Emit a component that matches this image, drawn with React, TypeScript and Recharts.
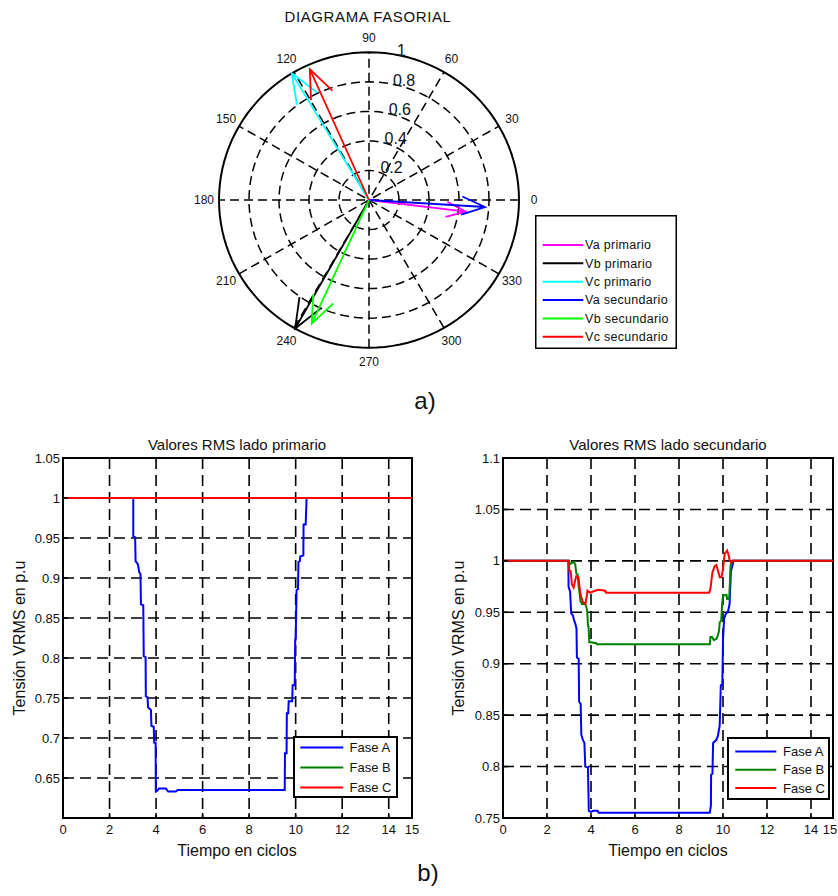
import React from 'react';
import {
  ComposedChart,
  LineChart,
  Line,
  Scatter,
  XAxis,
  YAxis,
  CartesianGrid,
  ReferenceArea,
  Legend,
} from 'recharts';

const FONT = '"Liberation Sans", Arial, Helvetica, sans-serif';

// ---------- Phasor diagram data ----------
const phasorNames = ['Va primario', 'Vb primario', 'Vc primario', 'Va secundario', 'Vb secundario', 'Vc secundario'];
const phasorMagnitudes = [0.65, 1.0, 1.0, 0.775, 0.92, 0.97];
const phasorAngles = [-7, 240.5, 121, -3.5, 245.5, 114];
const phasorColors = ['#ff00ff', '#000000', '#00ffff', '#0000ff', '#00ff00', '#ff0000'];
const ringRadii = [0.2, 0.4, 0.6, 0.8];
const outerRadius = 1;
const spokeAngles = [30, 60, 90, 120, 150, 180];
const angleLabels = [0, 30, 60, 90, 120, 150, 180, 210, 240, 270, 300, 330];
const radialLabels = [0.2, 0.4, 0.6, 0.8, 1];

// ---------- RMS data ----------
type Pt = [number, number];
const timeTicks = [0, 2, 4, 6, 8, 10, 12, 14, 15];
const primTicks = [0.65, 0.7, 0.75, 0.8, 0.85, 0.9, 0.95, 1, 1.05];
const secTicks = [0.75, 0.8, 0.85, 0.9, 0.95, 1, 1.05, 1.1];
const faseNames = ['Fase A', 'Fase B', 'Fase C'];
const faseColors = ['#0000ff', '#008000', '#ff0000'];

const primFaseA: Pt[] = [
  [0, 1], [3.02, 1], [3.02, 0.952], [3.1, 0.951], [3.12, 0.921], [3.22, 0.917], [3.28, 0.907],
  [3.33, 0.905], [3.35, 0.867], [3.45, 0.866], [3.47, 0.802], [3.55, 0.801], [3.56, 0.752],
  [3.63, 0.751], [3.66, 0.738], [3.78, 0.735], [3.8, 0.715], [3.9, 0.714], [3.92, 0.694],
  [3.98, 0.694], [3.99, 0.633], [4.05, 0.634], [4.13, 0.637], [4.42, 0.637], [4.52, 0.633],
  [4.85, 0.633], [4.93, 0.635], [9.53, 0.635], [9.54, 0.681], [9.61, 0.681], [9.62, 0.731],
  [9.68, 0.731], [9.7, 0.746], [9.85, 0.746], [9.87, 0.766], [9.96, 0.766], [9.98, 0.823],
  [10.0, 0.823], [10.04, 0.885], [10.1, 0.886], [10.12, 0.92], [10.18, 0.921], [10.2, 0.927],
  [10.33, 0.928], [10.34, 0.967], [10.43, 0.967], [10.47, 1], [15, 1],
];
const primFaseB: Pt[] = [[0, 1], [15, 1]];
const primFaseC: Pt[] = [[0, 1], [15, 1]];

const secFaseA: Pt[] = [
  [0, 1], [2.97, 1], [2.98, 0.975], [3.05, 0.97], [3.1, 0.949], [3.18, 0.947], [3.22, 0.943],
  [3.3, 0.938], [3.34, 0.934], [3.36, 0.906], [3.44, 0.905], [3.46, 0.863], [3.53, 0.861],
  [3.56, 0.831], [3.63, 0.826], [3.7, 0.823], [3.74, 0.8], [3.86, 0.799], [3.9, 0.757],
  [4.0, 0.756], [4.1, 0.757], [4.3, 0.757], [4.35, 0.755], [9.4, 0.755], [9.45, 0.762],
  [9.46, 0.792], [9.52, 0.793], [9.55, 0.823], [9.7, 0.826], [9.77, 0.83], [9.85, 0.84],
  [9.9, 0.879], [9.97, 0.88], [10.0, 0.923], [10.05, 0.944], [10.12, 0.948], [10.23, 0.951],
  [10.3, 0.958], [10.36, 0.99], [10.45, 0.997], [10.46, 1], [15, 1],
];
const secFaseB: Pt[] = [
  [0, 1], [3.0, 1], [3.06, 0.997], [3.2, 0.999], [3.28, 0.997], [3.33, 0.988], [3.39, 0.987],
  [3.43, 0.977], [3.48, 0.969], [3.52, 0.961], [3.59, 0.958], [3.74, 0.958], [3.79, 0.955],
  [3.83, 0.951], [3.86, 0.937], [3.89, 0.936], [3.92, 0.921], [4.24, 0.92], [4.27, 0.919],
  [9.4, 0.919], [9.43, 0.926], [9.5, 0.926], [9.58, 0.923], [9.7, 0.924], [9.76, 0.927],
  [9.82, 0.932], [9.85, 0.94], [9.92, 0.942], [9.96, 0.958], [10.0, 0.966], [10.16, 0.967],
  [10.19, 0.963], [10.28, 0.963], [10.31, 0.977], [10.34, 0.995], [10.38, 0.998], [10.43, 1], [15, 1],
];
const secFaseC: Pt[] = [
  [0, 1], [2.98, 1], [3.02, 0.99], [3.08, 0.99], [3.13, 0.977], [3.21, 0.974], [3.28, 0.981],
  [3.33, 0.985], [3.43, 0.984], [3.48, 0.974], [3.54, 0.966], [3.63, 0.96], [3.74, 0.958],
  [3.81, 0.966], [3.84, 0.971], [3.96, 0.969], [4.19, 0.971], [4.34, 0.972], [4.64, 0.971],
  [4.69, 0.969], [9.37, 0.969], [9.43, 0.973], [9.52, 0.989], [9.63, 0.995], [9.7, 0.996],
  [9.78, 0.99], [9.85, 0.984], [9.93, 0.984], [10.0, 0.992], [10.04, 1.0], [10.08, 1.007],
  [10.19, 1.01], [10.25, 1.006], [10.31, 1.0], [10.38, 0.998], [10.43, 1], [15, 1],
];

// ---------- helpers ----------
const DEG = Math.PI / 180;
const toXY = (r: number, a: number) => ({ x: r * Math.cos(a * DEG), y: r * Math.sin(a * DEG) });
const circlePts = (r: number) => Array.from({ length: 121 }, (_, i) => toXY(r, i * 3));
// MATLAB compass arrow: [0, z, (0.8+0.08i)z, z, (0.8-0.08i)z]
const arrowPts = (m: number, a: number) => {
  const z = toXY(m, a);
  return [
    { x: 0, y: 0 },
    z,
    { x: 0.8 * z.x - 0.08 * z.y, y: 0.8 * z.y + 0.08 * z.x },
    z,
    { x: 0.8 * z.x + 0.08 * z.y, y: 0.8 * z.y - 0.08 * z.x },
  ];
};
const toRows = (pts: Pt[]) => pts.map(([t, v]) => ({ t, v }));

const NoShape = () => <g />;
const AngleText = (p: any) => (
  <text x={p.cx} y={p.cy} textAnchor="middle" dominantBaseline="central" fontSize={12} fontFamily={FONT} fill="#111">
    {p.payload.label}
  </text>
);
const RadialText = (p: any) => (
  <text x={p.cx + 7} y={p.cy + 4} textAnchor="start" fontSize={16} fontFamily={FONT} fill="#111">
    {p.payload.label}
  </text>
);

const PhasorLegend = () => (
  <svg width={142} height={134}>
    <rect x={0.75} y={0.75} width={140.5} height={132.5} fill="#fff" stroke="#000" strokeWidth={1.5} />
    {phasorNames.map((n, i) => {
      const y = 30 + i * 18.35;
      return (
        <g key={n}>
          <line x1={7.7} x2={48.3} y1={y} y2={y} stroke={phasorColors[i]} strokeWidth={2} />
          <text x={50} y={y + 4.4} fontSize={12.5} letterSpacing={0.3} fontFamily={FONT} fill="#111">{n}</text>
        </g>
      );
    })}
  </svg>
);

function PhasorChart() {
  const lineStyle = { stroke: '#000', strokeWidth: 1.5, strokeDasharray: '9 5' };
  return (
    <ComposedChart width={838} height={400} margin={{ top: 8, right: 274, bottom: 8, left: 174 }}>
      <XAxis type="number" dataKey="x" domain={[-1.3, 1.3]} allowDataOverflow hide />
      <YAxis type="number" dataKey="y" domain={[-1.3, 1.3]} allowDataOverflow hide />
      {ringRadii.map((r) => (
        <Scatter key={'ring' + r} data={circlePts(r)} line={lineStyle} shape={NoShape} legendType="none" isAnimationActive={false} />
      ))}
      {spokeAngles.map((a) => (
        <Scatter key={'spoke' + a} data={[toXY(outerRadius, a + 180), toXY(outerRadius, a)]} line={lineStyle} shape={NoShape} legendType="none" isAnimationActive={false} />
      ))}
      <Scatter data={circlePts(outerRadius)} line={{ stroke: '#000', strokeWidth: 2 }} shape={NoShape} legendType="none" isAnimationActive={false} />
      {phasorNames.map((n, i) => (
        <Scatter
          key={n}
          name={n}
          data={arrowPts(phasorMagnitudes[i], phasorAngles[i])}
          line={{ stroke: phasorColors[i], strokeWidth: 1.8 }}
          shape={NoShape}
          isAnimationActive={false}
        />
      ))}
      <Scatter
        data={angleLabels.map((a) => ({ ...toXY(1.1 * outerRadius, a), label: String(a) }))}
        shape={AngleText}
        legendType="none"
        isAnimationActive={false}
      />
      <Scatter
        data={radialLabels.map((r) => ({ ...toXY(r + 0.01, 82), label: String(r) }))}
        shape={RadialText}
        legendType="none"
        isAnimationActive={false}
      />
      <Legend
        layout="vertical"
        align="center"
        verticalAlign="middle"
        wrapperStyle={{ left: 535, top: 215, width: 142, height: 134 }}
        content={PhasorLegend}
      />
    </ComposedChart>
  );
}

type Series = { name: string; color: string; pts: Pt[] };

function makeRmsLegend(w: number, h: number, rows: number[], lx1: number, lx2: number, tx: number) {
  return () => (
    <svg width={w} height={h}>
      <rect x={1} y={1} width={w - 2} height={h - 2} fill="#fff" stroke="#000" strokeWidth={2} />
      {faseNames.map((n, i) => (
        <g key={n}>
          <line x1={lx1} x2={lx2} y1={rows[i]} y2={rows[i]} stroke={faseColors[i]} strokeWidth={2} />
          <text x={tx} y={rows[i] + 4.6} fontSize={13} fontFamily={FONT} fill="#111">{n}</text>
        </g>
      ))}
    </svg>
  );
}

function makeXTick(lastShift: number) {
  return (p: any) => {
    const v = p.payload.value;
    return (
      <text
        x={p.x + (v === 15 ? lastShift : 0)}
        y={p.y}
        dy="0.71em"
        textAnchor="middle"
        fontSize={13}
        fontFamily={FONT}
        fill="#111"
      >
        {String(v)}
      </text>
    );
  };
}

function RmsChart(props: {
  width: number;
  marginLeft: number;
  marginRight: number;
  yDomain: [number, number];
  yTicks: number[];
  series: Series[];
  lastShift: number;
  legend: { left: number; top: number; w: number; h: number; rows: number[]; lx1: number; lx2: number; tx: number };
}) {
  const { width, marginLeft, marginRight, yDomain, yTicks, series, legend, lastShift } = props;
  const tickStyle = { fill: '#111', fontSize: 13, fontFamily: FONT };
  return (
    <LineChart width={width} height={430} margin={{ top: 28, right: marginRight, bottom: 12, left: marginLeft }}>
      <CartesianGrid stroke="#000" strokeDasharray="11 6" strokeWidth={1.6} />
      <XAxis
        type="number"
        dataKey="t"
        domain={[0, 15]}
        ticks={timeTicks}
        interval={0}
        allowDataOverflow
        height={30}
        tickSize={-5}
        tickMargin={12}
        axisLine={false}
        tickLine={{ stroke: '#000', strokeWidth: 1.5 }}
        tick={makeXTick(lastShift)}
      />
      <YAxis
        type="number"
        domain={yDomain}
        ticks={yTicks}
        interval={0}
        allowDataOverflow
        width={50}
        tickSize={-5}
        tickMargin={8}
        axisLine={false}
        tickLine={{ stroke: '#000', strokeWidth: 1.5 }}
        tick={tickStyle}
      />
      {series.map((s) => (
        <Line
          key={s.name}
          name={s.name}
          data={toRows(s.pts)}
          dataKey="v"
          type="linear"
          stroke={s.color}
          strokeWidth={2}
          dot={false}
          activeDot={false}
          isAnimationActive={false}
        />
      ))}
      <ReferenceArea x1={0} x2={15} y1={yDomain[0]} y2={yDomain[1]} fill="none" stroke="#000" strokeWidth={2} ifOverflow="visible" />
      <Legend
        layout="vertical"
        align="center"
        verticalAlign="middle"
        wrapperStyle={{ left: legend.left, top: legend.top, width: legend.w, height: legend.h }}
        content={makeRmsLegend(legend.w, legend.h, legend.rows, legend.lx1, legend.lx2, legend.tx)}
      />
    </LineChart>
  );
}

const primSeries: Series[] = [
  { name: faseNames[0], color: faseColors[0], pts: primFaseA },
  { name: faseNames[1], color: faseColors[1], pts: primFaseB },
  { name: faseNames[2], color: faseColors[2], pts: primFaseC },
];
const secSeries: Series[] = [
  { name: faseNames[0], color: faseColors[0], pts: secFaseA },
  { name: faseNames[1], color: faseColors[1], pts: secFaseB },
  { name: faseNames[2], color: faseColors[2], pts: secFaseC },
];

export default function App() {
  const txt = { fontFamily: FONT, fill: '#111' };
  return (
    <div style={{ position: 'absolute', left: 0, top: 0, width: 838, height: 896, background: '#fff', overflow: 'hidden' }}>
      <div style={{ position: 'absolute', left: 0, top: 0 }}>
        <PhasorChart />
      </div>
      <div style={{ position: 'absolute', left: 0, top: 430 }}>
        <RmsChart
          width={420}
          marginLeft={13}
          marginRight={8}
          yDomain={[0.6, 1.05]}
          yTicks={primTicks}
          series={primSeries}
          lastShift={0}
          legend={{ left: 293, top: 306, w: 105, h: 62, rows: [11.6, 31.6, 51.6], lx1: 7.3, lx2: 50.3, tx: 56.6 }}
        />
      </div>
      <div style={{ position: 'absolute', left: 420, top: 430 }}>
        <RmsChart
          width={418}
          marginLeft={33}
          marginRight={5}
          yDomain={[0.75, 1.1]}
          yTicks={secTicks}
          series={secSeries}
          lastShift={-3}
          legend={{ left: 307, top: 307, w: 103, h: 63, rows: [14.4, 32.7, 51], lx1: 8.3, lx2: 49.3, tx: 56 }}
        />
      </div>
      <svg width={838} height={896} style={{ position: 'absolute', left: 0, top: 0, pointerEvents: 'none' }}>
        <text x={368} y={21.5} textAnchor="middle" fontSize={15} letterSpacing={0.6} {...txt}>DIAGRAMA FASORIAL</text>
        <text x={425} y={409} textAnchor="middle" fontSize={24} {...txt}>a)</text>
        <text x={237} y={450} textAnchor="middle" fontSize={15} {...txt}>Valores RMS lado primario</text>
        <text x={668} y={450} textAnchor="middle" fontSize={15} {...txt}>Valores RMS lado secundario</text>
        <text x={237} y={856} textAnchor="middle" fontSize={16} {...txt}>Tiempo en ciclos</text>
        <text x={668} y={856} textAnchor="middle" fontSize={16} {...txt}>Tiempo en ciclos</text>
        <text x={25} y={638} textAnchor="middle" fontSize={16} transform="rotate(-90 25 638)" {...txt}>Tensión VRMS en p.u</text>
        <text x={464} y={638} textAnchor="middle" fontSize={16} transform="rotate(-90 464 638)" {...txt}>Tensión VRMS en p.u</text>
        <text x={428} y={881} textAnchor="middle" fontSize={24} {...txt}>b)</text>
      </svg>
    </div>
  );
}
